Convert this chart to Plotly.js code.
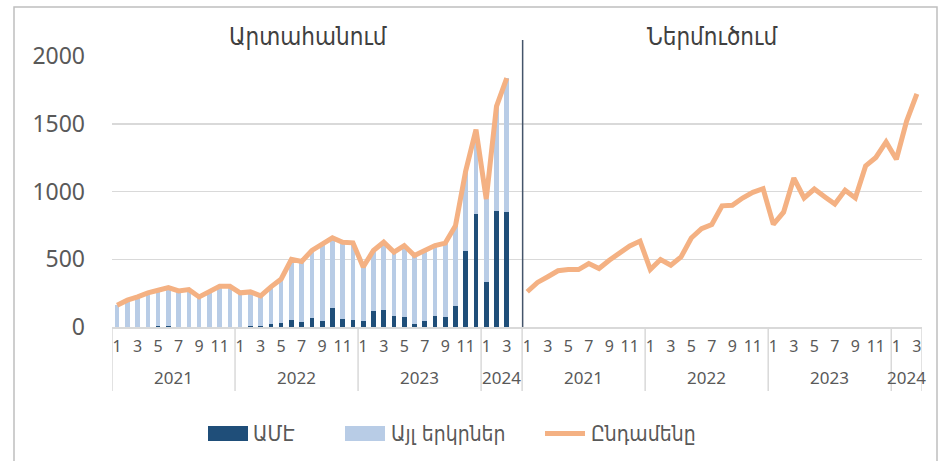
<!DOCTYPE html>
<html><head><meta charset="utf-8">
<script src="https://cdn.plot.ly/plotly-3.0.1.min.js"></script>
<style>html,body{margin:0;padding:0;background:#fff;} #chart{width:949px;height:461px;}</style>
</head><body><div id="chart"></div>
<script>
// ---- data ----
const panelTitles = ["Արտահանում", "Ներմուծում"];
const seriesNames = ["ԱՄԷ", "Այլ երկրներ", "Ընդամենը"];

// export panel categories (last one is an empty spacer column)
const exportYears  = ["2021","2021","2021","2021","2021","2021","2021","2021","2021","2021","2021","2021",
                      "2022","2022","2022","2022","2022","2022","2022","2022","2022","2022","2022","2022",
                      "2023","2023","2023","2023","2023","2023","2023","2023","2023","2023","2023","2023",
                      "2024","2024","2024","2024"];
const exportMonths = ["1","2","3","4","5","6","7","8","9","10","11","12",
                      "1","2","3","4","5","6","7","8","9","10","11","12",
                      "1","2","3","4","5","6","7","8","9","10","11","12",
                      "1","2","3",""];
const importYears  = ["2021","2021","2021","2021","2021","2021","2021","2021","2021","2021","2021","2021",
                      "2022","2022","2022","2022","2022","2022","2022","2022","2022","2022","2022","2022",
                      "2023","2023","2023","2023","2023","2023","2023","2023","2023","2023","2023","2023",
                      "2024","2024","2024"];
const importMonths = ["1","2","3","4","5","6","7","8","9","10","11","12",
                      "1","2","3","4","5","6","7","8","9","10","11","12",
                      "1","2","3","4","5","6","7","8","9","10","11","12",
                      "1","2","3"];

const exportUAE   = [2,2,3,3,5,4,3,3,3,2,2,2,
                     2,4,10,20,32,49,37,70,44,137,61,54,
                     44,115,125,81,71,22,44,78,71,154,560,834,
                     335,858,851];
const exportOther = [159,196,219,249,266,287,263,273,219,264,298,298,
                     250,255,220,276,322,450,447,495,570,521,565,567,
                     399,450,501,472,530,506,521,523,548,594,592,623,
                     609,770,985];
const exportTotal = [161,198,222,252,271,291,266,276,222,266,300,300,
                     252,259,230,296,354,499,484,565,614,658,626,621,
                     443,565,626,553,601,528,565,601,619,748,1152,1457,
                     944,1628,1836];
const importTotal = [260,329,371,415,424,424,468,432,493,546,598,634,
                     424,498,456,517,657,725,757,894,899,952,994,1021,
                     757,847,1099,952,1018,962,908,1009,952,1189,1251,1366,
                     1238,1520,1720];
const yTicks = [0,500,1000,1500,2000];

// ---- build ----
const C_UAE = '#1F4E79', C_OTH = '#B8CCE6', C_TOT = '#F4B183', C_TXT = '#595959', C_GRID = '#D9D9D9';
const ARM_FONT = '"DejaVu Sans Condensed", "DejaVu Sans", sans-serif';
const nExp = exportMonths.length;
const allYears = exportYears.concat(importYears);
const allMonths = exportMonths.concat(importMonths);
const nAll = allMonths.length;
const xExp = exportUAE.map((_, i) => i);
const xImp = importTotal.map((_, j) => nExp + j);

const tickvals = [], ticktext = [];
allMonths.forEach((m, i) => { if (m !== "" && (+m) % 2 === 1) { tickvals.push(i); ticktext.push(m); } });

// pixel helpers for plot-area geometry
const L = 112, R = 27, T = 56, B = 134, W = 949, H = 461;
const PW = W - L - R, PH = H - T - B;
const px = x => (x - L) / PW;
const py = y => (H - B - y) / PH;

const traces = [
  {type:'bar', x:xExp, y:exportUAE, name:seriesNames[0], marker:{color:C_UAE}, width:0.45},
  {type:'bar', x:xExp, y:exportOther, name:seriesNames[1], marker:{color:C_OTH}, width:0.45},
  {type:'scatter', mode:'lines', x:xExp, y:exportTotal, name:seriesNames[2], line:{color:C_TOT, width:5}},
  {type:'scatter', mode:'lines', x:xImp, y:importTotal, name:seriesNames[2], line:{color:C_TOT, width:5}}
];

const shapes = [];
const annotations = [];
// chart border
shapes.push({type:'rect', xref:'paper', yref:'paper', x0:px(14), x1:px(937), y0:py(475), y1:py(7),
  line:{color:'#BFBFBF', width:1.5}, fillcolor:'rgba(0,0,0,0)', layer:'below'});
// divider between panels
shapes.push({type:'line', xref:'x', yref:'paper', x0:nExp - 0.45, x1:nExp - 0.45, y0:0, y1:py(40),
  line:{color:'#44546A', width:1.5}});
// year groups: separators + labels
function groups(yearsArr, offset) {
  let start = 0;
  for (let i = 1; i <= yearsArr.length; i++) {
    if (i === yearsArr.length || yearsArr[i] !== yearsArr[start]) {
      annotations.push({xref:'x', yref:'paper', x:offset + (start + i - 1) / 2, y:py(377),
        text:yearsArr[start], showarrow:false, font:{size:17, color:C_TXT}, xanchor:'center', yanchor:'middle'});
      start = i;
    }
  }
}
groups(exportYears, 0);
groups(importYears, nExp);
const seps = [-0.5];
for (let i = 1; i < nAll; i++) {
  if (allYears[i] !== allYears[i-1] || i === nExp) seps.push(i - 0.5);
}
seps.push(nAll - 0.5);
seps.forEach(s => shapes.push({type:'line', xref:'x', yref:'paper', x0:s, x1:s, y0:0, y1:py(391),
  line:{color:C_GRID, width:1.5}}));
// panel titles
annotations.push({xref:'paper', yref:'paper', x:px(308), y:py(37), text:panelTitles[0], showarrow:false,
  font:{size:24, color:'#404040', family:ARM_FONT}, xanchor:'center', yanchor:'middle'});
annotations.push({xref:'paper', yref:'paper', x:px(712), y:py(37), text:panelTitles[1], showarrow:false,
  font:{size:24, color:'#404040', family:ARM_FONT}, xanchor:'center', yanchor:'middle'});
// legend (manual)
shapes.push({type:'rect', xref:'paper', yref:'paper', x0:px(208), x1:px(248), y0:py(441), y1:py(426), line:{width:0}, fillcolor:C_UAE});
shapes.push({type:'rect', xref:'paper', yref:'paper', x0:px(345), x1:px(385), y0:py(441), y1:py(426), line:{width:0}, fillcolor:C_OTH});
shapes.push({type:'line', xref:'paper', yref:'paper', x0:px(545), x1:px(585), y0:py(433.5), y1:py(433.5), line:{width:5, color:C_TOT}});
[[251, seriesNames[0]], [389, seriesNames[1]], [589, seriesNames[2]]].forEach(([x, t]) =>
  annotations.push({xref:'paper', yref:'paper', x:px(x), y:py(434), text:t, showarrow:false,
    font:{size:21, color:C_TXT, family:ARM_FONT}, xanchor:'left', yanchor:'middle'}));

const layout = {
  width:W, height:H, margin:{l:L, r:R, t:T, b:B, pad:0},
  paper_bgcolor:'#ffffff', plot_bgcolor:'#ffffff',
  barmode:'stack', showlegend:false,
  font:{family:'"Noto Sans", "DejaVu Sans", sans-serif', color:C_TXT},
  xaxis:{range:[-0.5, nAll - 0.5], tickmode:'array', tickvals:tickvals, ticktext:ticktext, tickangle:0,
    tickfont:{size:16, color:C_TXT}, showgrid:false, zeroline:false, showline:true, linecolor:C_GRID, linewidth:1.5,
    ticks:'', ticklabelstandoff:4, fixedrange:true},
  yaxis:{range:[0, 2000], tickmode:'array', tickvals:yTicks, tickfont:{size:23, color:C_TXT},
    showgrid:true, gridcolor:C_GRID, gridwidth:1.5, zeroline:false, showline:false, ticks:'',
    ticklabelstandoff:26, fixedrange:true},
  shapes:shapes, annotations:annotations
};
Plotly.newPlot('chart', traces, layout, {staticPlot:true, displayModeBar:false});
</script></body></html>
